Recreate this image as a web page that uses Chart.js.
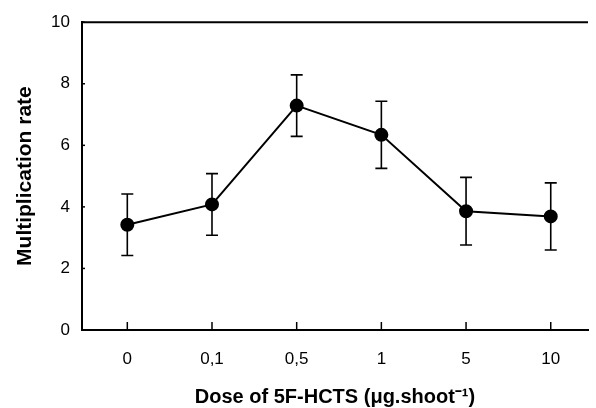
<!DOCTYPE html>
<html>
<head>
<meta charset="utf-8">
<script src="https://cdn.jsdelivr.net/npm/chart.js@4"></script>
<style>
  html, body { margin: 0; padding: 0; background: #fff; overflow: hidden; }
  #wrap { width: 596px; height: 408px; }
</style>
</head>
<body>
<div id="wrap"><canvas id="chart"></canvas></div>
<script>
const doses = ["0", "0,1", "0,5", "1", "5", "10"];
const rates = [3.42, 4.08, 7.29, 6.34, 3.86, 3.69];
const errors = [1.0, 1.0, 1.0, 1.09, 1.1, 1.09];
const yTicks = [0, 2, 4, 6, 8, 10];

const points = rates.map((v, i) => ({ x: i, y: v }));

// error bars, inner ticks and the top frame line
const extras = {
  id: "extras",
  afterDatasetsDraw(chart) {
    const ctx = chart.ctx;
    const xs = chart.scales.x;
    const ys = chart.scales.y;
    const area = chart.chartArea;
    ctx.save();
    ctx.strokeStyle = "#000";
    ctx.lineWidth = 1.6;
    rates.forEach((v, i) => {
      const px = xs.getPixelForValue(i);
      const top = ys.getPixelForValue(v + errors[i]);
      const bot = ys.getPixelForValue(v - errors[i]);
      ctx.beginPath();
      ctx.moveTo(px, top);
      ctx.lineTo(px, bot);
      ctx.moveTo(px - 6, top);
      ctx.lineTo(px + 6, top);
      ctx.moveTo(px - 6, bot);
      ctx.lineTo(px + 6, bot);
      ctx.stroke();
    });
    ctx.lineWidth = 1.5;
    doses.forEach((d, i) => {
      const px = xs.getPixelForValue(i);
      ctx.beginPath();
      ctx.moveTo(px, area.bottom);
      ctx.lineTo(px, area.bottom - 8);
      ctx.stroke();
    });
    yTicks.forEach((v) => {
      const py = ys.getPixelForValue(v);
      ctx.beginPath();
      ctx.moveTo(area.left, py);
      ctx.lineTo(area.left + 3, py);
      ctx.stroke();
    });
    ctx.lineWidth = 2;
    ctx.beginPath();
    ctx.moveTo(area.left, area.top);
    ctx.lineTo(area.right, area.top);
    ctx.stroke();
    ctx.restore();
  }
};

new Chart(document.getElementById("chart"), {
  type: "line",
  data: {
    datasets: [
      {
        data: points,
        borderColor: "#000",
        borderWidth: 2,
        pointRadius: 6,
        pointBackgroundColor: "#000",
        pointBorderColor: "#000",
        tension: 0,
      },
    ],
  },
  options: {
    responsive: true,
    maintainAspectRatio: false,
    animation: false,
    layout: { padding: { top: 19, right: 0, left: 0, bottom: 0 } },
    plugins: { legend: { display: false }, tooltip: { enabled: false } },
    scales: {
      x: {
        type: "linear",
        min: -0.535,
        max: 5.44,
        afterFit(scale) { scale.height = 78; },
        afterBuildTicks(scale) {
          scale.ticks = doses.map((d, i) => ({ value: i }));
        },
        grid: { display: false, drawTicks: false },
        border: { color: "#000", width: 2 },
        ticks: {
          color: "#000",
          padding: 19,
          font: { family: "Liberation Sans", size: 17 },
          callback: (v) => doses[v],
        },
        title: {
          display: true,
          text: "Dose of 5F-HCTS (\u03bcg.shoot\u207b\u00b9)",
          color: "#000",
          font: { family: "Liberation Sans", size: 20, weight: "bold" },
          padding: { top: 17, bottom: -1 },
        },
      },
      y: {
        min: 0,
        max: 10,
        afterFit(scale) { scale.width = 82; },
        afterBuildTicks(scale) {
          scale.ticks = yTicks.map((v) => ({ value: v }));
        },
        grid: { display: false, drawTicks: false },
        border: { color: "#000", width: 2 },
        ticks: {
          color: "#000",
          padding: 12,
          font: { family: "Liberation Sans", size: 17 },
        },
        title: {
          display: true,
          text: "Multiplication rate",
          color: "#000",
          font: { family: "Liberation Sans", size: 21, weight: "bold" },
          padding: { top: 13, bottom: 2 },
        },
      },
    },
  },
  plugins: [extras],
});
</script>
</body>
</html>
